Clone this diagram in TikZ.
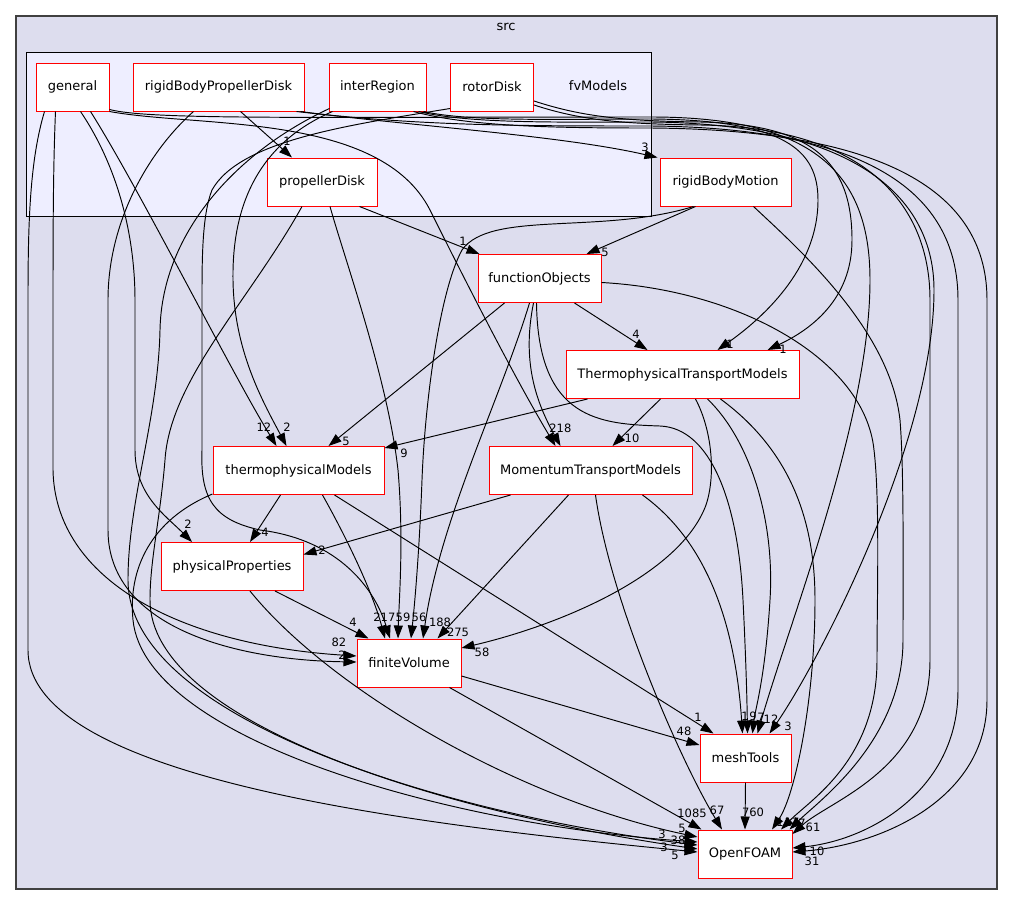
\documentclass[tikz,border=0pt]{standalone}
\usepackage{fontspec}
\setmainfont{DejaVu Sans}
\usepackage{tikz}
\usetikzlibrary{positioning,arrows.meta,calc}
\usepackage{xcolor}

\definecolor{srcfill}{HTML}{DDDDEE}
\definecolor{subfill}{HTML}{EEEEFF}
\definecolor{srcline}{HTML}{404040}

\begin{document}
\begin{tikzpicture}[x=1pt,y=-1pt,
  dirbox/.style={draw=red,fill=white,line width=1pt,minimum height=48pt,inner sep=0pt,font=\fontsize{13}{15}\selectfont},
  dep/.style={line width=0.95pt,-{Triangle[length=13pt,width=9pt]}},
  lbl/.style={font=\fontsize{11.5}{13}\selectfont,inner sep=0pt}]
\useasboundingbox (0,0) rectangle (1013,905);
\fill[white] (0,0) rectangle (1013,905);
% clusters
\draw[srcline,fill=srcfill,line width=1.3pt] (16,16) rectangle (997,889);
\node[font=\fontsize{13}{15}\selectfont] (srclbl) at (506,27) {src};
\draw[fill=subfill,line width=0.9pt] (26,52) rectangle (651,216);
\node[font=\fontsize{13}{15}\selectfont] (fvlbl) at (598,86) {fvModels};
% directories
\node[dirbox,minimum width=73pt] (gen) at (72.5,87) {general};
\node[dirbox,minimum width=171pt] (rbpd) at (218.5,87) {rigidBodyPropellerDisk};
\node[dirbox,minimum width=97pt] (inter) at (377.5,87) {interRegion};
\node[dirbox,minimum width=83pt] (rotor) at (492,87) {rotorDisk};
\node[dirbox,minimum width=110pt] (prop) at (322,182) {propellerDisk};
\node[dirbox,minimum width=131pt] (rbm) at (725.5,182) {rigidBodyMotion};
\node[dirbox,minimum width=123pt] (fo) at (539.5,278.5) {functionObjects};
\node[dirbox,minimum width=233pt] (ttm) at (682.5,374.5) {ThermophysicalTransportModels};
\node[dirbox,minimum width=171pt] (thermo) at (298.5,470.5) {thermophysicalModels};
\node[dirbox,minimum width=203pt] (mtm) at (590.5,470.5) {MomentumTransportModels};
\node[dirbox,minimum width=142pt] (phys) at (232,566.5) {physicalProperties};
\node[dirbox,minimum width=104pt] (fv) at (409,663) {finiteVolume};
\node[dirbox,minimum width=91pt] (mesh) at (745.5,758) {meshTools};
\node[dirbox,minimum width=94pt] (of) at (745,854) {OpenFOAM};
% general
\draw[dep] ($(gen.south)+(-28,0)$) .. controls (30,160) and (28,220) .. (28,300) -- (28,650) .. controls (28,780) and (420,825) .. ($(of.west)+(0,-2)$) node[lbl] at (675,855) {5};
\draw[dep] ($(gen.south)+(-17,0)$) .. controls (53,170) and (53,240) .. (53,320) -- (53,470) .. controls (55,580) and (180,645) .. ($(fv.west)+(0,-7)$) node[lbl] at (339,642) {82};
\draw[dep] ($(gen.south)+(8,0)$) .. controls (120,170) and (135,240) .. (135,300) -- (135,450) .. controls (135,495) and (165,515) .. ($(phys.north)+(-40,0)$) node[lbl] at (188,524) {2};
\draw[dep] ($(gen.south)+(18,0)$) .. controls (140,190) and (230,370) .. ($(thermo.north)+(-22,0)$) node[lbl] at (264,427) {12};
\draw[dep] (gen.south east) .. controls (200,128) and (380,112) .. (430,210) .. controls (455,260) and (510,370) .. ($(mtm.north)+(-35,0)$) node[lbl] at (553,428) {2};
\draw[dep] ($(gen.south east)+(0,-2)$) .. controls (150,120) and (300,117) .. (651,117) .. controls (810,117) and (870,170) .. (870,280) .. controls (870,420) and (790,620) .. ($(mesh.north)+(12,0)$) node[lbl] at (771,719) {12};
% rigidBodyPropellerDisk
\draw[dep] ($(rbpd.south)+(22,0)$) -- ($(prop.north)+(-30,0)$) node[lbl] at (287,141) {1};
\draw[dep] ($(rbpd.south east)+(-4,0)$) .. controls (400,125) and (560,135) .. ($(rbm.north west)+(-2,0)$) node[lbl] at (645,147) {3};
\draw[dep] ($(rbpd.south)+(-25,0)$) .. controls (150,150) and (108,220) .. (108,300) -- (108,530) .. controls (108,625) and (230,660) .. ($(fv.west)+(0,-1)$) node[lbl] at (342,655) {2};
\draw[dep] ($(rbpd.south east)+(-8,0)$) .. controls (420,126) and (520,126) .. (651,126) .. controls (880,128) and (958,200) .. (958,300) -- (958,690) .. controls (958,790) and (870,840) .. ($(of.east)+(0,-6)$) node[lbl] at (817,851) {10};
% interRegion
\draw[dep] ($(inter.south west)+(4,0)$) .. controls (255,145) and (232,210) .. (233,280) .. controls (234,350) and (262,400) .. ($(thermo.north)+(-12,0)$) node[lbl] at (287,427) {2};
\draw[dep] ($(inter.south west)+(1,-3)$) .. controls (240,150) and (162,230) .. (160,330) .. controls (158,420) and (128,500) .. (128,580) .. controls (128,720) and (450,815) .. ($(of.west)+(0,-9)$) node[lbl] at (662,834) {3};
\draw[dep] ($(inter.south east)+(-3,0)$) .. controls (470,122) and (560,119) .. (651,119) .. controls (785,120) and (818,150) .. (818,200) .. controls (818,270) and (760,320) .. ($(ttm.north)+(35,0)$) node[lbl] at (730,344) {1};
\draw[dep] ($(inter.south east)+(-8,0)$) .. controls (470,124) and (560,122) .. (651,122) .. controls (860,124) and (934,200) .. (934,290) .. controls (934,440) and (820,660) .. ($(mesh.north)+(24,0)$) node[lbl] at (788,726) {3};
\draw[dep] ($(inter.south east)+(-13,0)$) .. controls (470,127) and (560,128) .. (651,128) .. controls (900,130) and (987,200) .. (987,300) -- (987,700) .. controls (987,800) and (880,845) .. ($(of.east)+(0,-2)$) node[lbl] at (812,861) {31};
% rotorDisk
\draw[dep] ($(rotor.south west)+(0,-3)$) .. controls (350,125) and (240,140) .. (212,190) .. controls (202,215) and (202,260) .. (202,300) -- (202,450) .. controls (200,500) and (215,520) .. (260,530) .. controls (340,540) and (375,590) .. ($(fv.north)+(-19,0)$) node[lbl] at (388,617) {17};
\draw[dep] ($(rotor.east)+(0,14)$) .. controls (580,116) and (620,121) .. (700,122) .. controls (810,124) and (852,160) .. (852,240) .. controls (852,300) and (810,330) .. ($(ttm.north)+(85,0)$) node[lbl] at (783,349) {1};
\draw[dep] ($(rotor.east)+(0,18)$) .. controls (580,120) and (620,124) .. (700,125) .. controls (860,127) and (930,200) .. (930,300) -- (930,660) .. controls (930,770) and (830,800) .. ($(of.east)+(0,-20)$) node[lbl] at (813,827) {61};
% propellerDisk
\draw[dep] ($(prop.south east)+(-18,0)$) -- ($(fo.north west)+(2,0)$) node[lbl] at (463,241) {1};
\draw[dep] ($(prop.south)+(8,0)$) .. controls (345,260) and (388,380) .. (398,470) .. controls (404,540) and (399,600) .. ($(fv.north)+(-11,0)$) node[lbl] at (403,617) {59};
\draw[dep] ($(prop.south)+(-20,0)$) .. controls (250,300) and (170,380) .. (165,460) .. controls (160,520) and (150,560) .. (150,600) .. controls (150,720) and (430,810) .. ($(of.west)+(0,-5)$) node[lbl] at (678,840) {38};
% rigidBodyMotion
\draw[dep] ($(rbm.south)+(-30,0)$) -- ($(fo.north east)+(-15,0)$) node[lbl] at (605,252) {5};
\draw[dep] ($(rbm.south)+(-32,0)$) .. controls (600,235) and (490,210) .. (462,250) .. controls (440,290) and (425,400) .. (422,480) .. controls (419,560) and (414,610) .. ($(fv.north)+(2,0)$) node[lbl] at (419,617) {56};
\draw[dep] ($(rbm.south)+(28,0)$) .. controls (800,250) and (890,330) .. (900,420) .. controls (904,470) and (903,560) .. (903,640) .. controls (903,740) and (820,800) .. ($(of.north east)+(-3,0)$) node[lbl] at (802,823) {7};
% functionObjects
\draw[dep] ($(fo.south)+(-35,0)$) -- ($(thermo.north)+(30,0)$) node[lbl] at (346,441) {5};
\draw[dep] ($(fo.south)+(-10,0)$) .. controls (500,400) and (440,520) .. ($(fv.north)+(14,0)$) node[lbl] at (440,622) {188};
\draw[dep] ($(fo.south)+(-6,0)$) .. controls (522,360) and (535,400) .. ($(mtm.north)+(-30,0)$) node[lbl] at (564,428) {18};
\draw[dep] ($(fo.south)+(-3,0)$) .. controls (538,420) and (600,424) .. (660,426) .. controls (710,428) and (738,500) .. (743,600) .. controls (746,660) and (747,700) .. ($(mesh.north)+(2,0)$) node[lbl] at (753,716) {9};
\draw[dep] ($(fo.south east)+(-27,0)$) -- ($(ttm.north)+(-35,0)$) node[lbl] at (636,334) {4};
\draw[dep] ($(fo.east)+(0,4)$) .. controls (740,290) and (865,360) .. (874,450) .. controls (880,500) and (877,600) .. (877,660) .. controls (877,760) and (810,800) .. ($(of.north)+(36,0)$) node[lbl] at (792,822) {17};
% ThermophysicalTransportModels
\draw[dep] ($(ttm.south west)+(22,0)$) -- ($(thermo.north east)+(0,2)$) node[lbl] at (404,453) {9};
\draw[dep] ($(ttm.south)+(-22,0)$) -- ($(mtm.north)+(22,0)$) node[lbl] at (632,438) {10};
\draw[dep] ($(ttm.south)+(13,0)$) .. controls (712,430) and (716,475) .. (706,505) .. controls (680,575) and (560,625) .. ($(fv.east)+(0,-15)$) node[lbl] at (482,652) {58};
\draw[dep] ($(ttm.south)+(25,0)$) .. controls (750,440) and (775,520) .. (770,600) .. controls (765,680) and (755,710) .. ($(mesh.north)+(7,0)$) node[lbl] at (761,717) {7};
\draw[dep] ($(ttm.south)+(38,0)$) .. controls (790,450) and (815,520) .. (815,600) .. controls (815,700) and (795,795) .. ($(of.north)+(27,0)$) node[lbl] at (780,822) {1};
% thermophysicalModels
\draw[dep] ($(thermo.south)+(-18,0)$) -- ($(phys.north)+(18,0)$) node[lbl] at (265,532) {4};
\draw[dep] ($(thermo.south)+(24,0)$) .. controls (345,535) and (372,590) .. ($(fv.north)+(-24,0)$) node[lbl] at (377,617) {2};
\draw[dep] ($(thermo.south)+(36,0)$) -- ($(mesh.north west)+(14,0)$) node[lbl] at (698,717) {1};
\draw[dep] ($(thermo.south west)+(0,-1)$) .. controls (150,520) and (128,570) .. (133,620) .. controls (145,740) and (450,825) .. ($(of.west)+(0,-12)$) node[lbl] at (664,847) {3};
% MomentumTransportModels
\draw[dep] ($(mtm.south)+(-80,0)$) -- ($(phys.east)+(0,-12)$) node[lbl] at (322,550) {2};
\draw[dep] ($(mtm.south)+(-22,0)$) -- ($(fv.north east)+(-24,0)$) node[lbl] at (458,632) {275};
\draw[dep] ($(mtm.south)+(5,0)$) .. controls (610,600) and (680,760) .. ($(of.north)+(-23,0)$) node[lbl] at (717,810) {67};
\draw[dep] ($(mtm.south east)+(-50,0)$) .. controls (705,540) and (735,620) .. ($(mesh.north)+(-3,0)$) node[lbl] at (745,716) {1};
% physicalProperties
\draw[dep] ($(phys.south)+(43,0)$) -- ($(fv.north west)+(12,0)$) node[lbl] at (353,622) {4};
\draw[dep] ($(phys.south)+(18,0)$) .. controls (330,690) and (520,800) .. ($(of.west)+(0,-17)$) node[lbl] at (682,828) {5};
% finiteVolume
\draw[dep] ($(fv.east)+(0,13)$) -- ($(mesh.west)+(0,-13)$) node[lbl] at (684,731) {48};
\draw[dep] ($(fv.south east)+(-12,0)$) -- ($(of.north west)+(4,0)$) node[lbl] at (692,813) {1085};
% meshTools
\draw[dep] (mesh.south) -- (of.north) node[lbl] at (753,812) {760};
\end{tikzpicture}
\end{document}
